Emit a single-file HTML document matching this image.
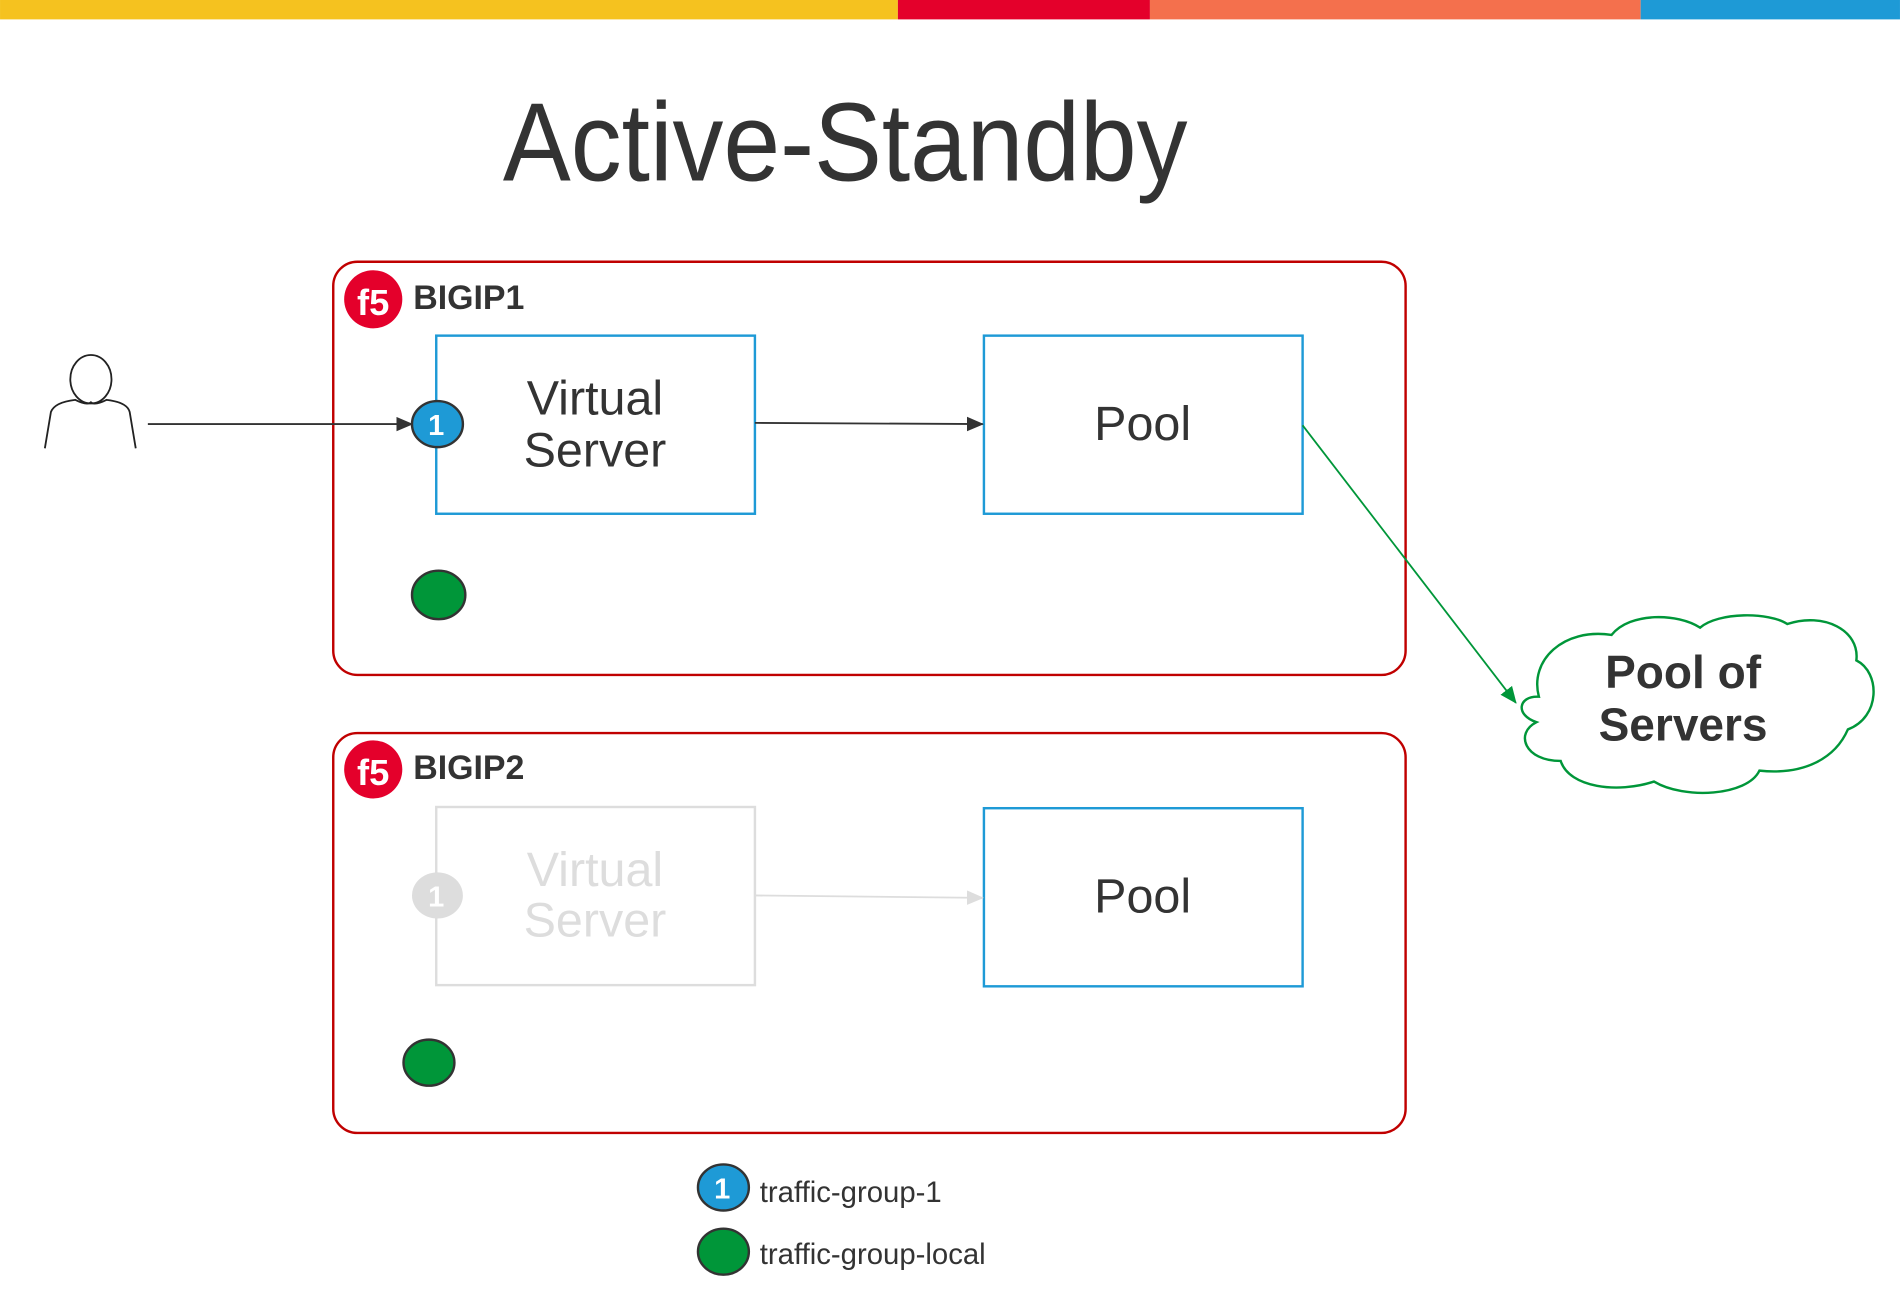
<!DOCTYPE html>
<html><head><meta charset="utf-8"><style>
html,body{margin:0;padding:0;background:#fff;}
svg{display:block;}
text{font-family:"Liberation Sans",Arial,sans-serif;}
</style></head><body>
<svg width="1900" height="1305" viewBox="0 0 1568 1077" xmlns="http://www.w3.org/2000/svg">
<defs>
<marker id="ah" markerWidth="14" markerHeight="12" refX="13" refY="6" orient="auto" markerUnits="userSpaceOnUse"><path d="M0,0 L14,6 L0,12 Z" fill="#333"/></marker>
<marker id="ahg" markerWidth="14" markerHeight="12" refX="13" refY="6" orient="auto" markerUnits="userSpaceOnUse"><path d="M0,0 L14,6 L0,12 Z" fill="#ddd"/></marker>
<marker id="ahgr" markerWidth="14" markerHeight="12" refX="13" refY="6" orient="auto" markerUnits="userSpaceOnUse"><path d="M0,0 L14,6 L0,12 Z" fill="#009639"/></marker>
</defs>
<rect x="0" y="0" width="741" height="16" fill="#F5C21F"/>
<rect x="741" y="0" width="208" height="16" fill="#E4002B"/>
<rect x="949" y="0" width="405" height="16" fill="#F4704D"/>
<rect x="1354" y="0" width="214" height="16" fill="#1E9AD6"/>
<text x="415" y="149" font-size="92" fill="#333" textLength="565" lengthAdjust="spacingAndGlyphs">Active-Standby</text>

<!-- person -->
<ellipse cx="75" cy="313" rx="17" ry="20" fill="#fff" stroke="#222" stroke-width="1.5"/>
<path d="M37,370 L42,340 Q45,332 62,330 Q72,335 75,332 Q78,335 88,330 Q105,332 107,340 L112,370" fill="none" stroke="#222" stroke-width="1.5"/>

<!-- Box 1 -->
<rect x="275" y="216" width="885" height="341" rx="20" fill="none" stroke="#C00000" stroke-width="2"/>
<circle cx="308" cy="247" r="24" fill="#E4002B"/>
<text x="308" y="260" font-size="30" font-family="Liberation Serif,serif" fill="#fff" text-anchor="middle" font-weight="bold">f5</text>
<text x="341" y="255" font-size="28" font-weight="bold" fill="#333">BIGIP1</text>
<rect x="360" y="277" width="263" height="147" fill="none" stroke="#1E9AD6" stroke-width="2"/>
<text x="491" y="342" font-size="40" fill="#333" text-anchor="middle">Virtual</text>
<text x="491" y="385" font-size="40" fill="#333" text-anchor="middle">Server</text>
<rect x="812" y="277" width="263" height="147" fill="none" stroke="#1E9AD6" stroke-width="2"/>
<text x="943" y="363" font-size="40" fill="#333" text-anchor="middle">Pool</text>
<line x1="122" y1="350" x2="340" y2="350" stroke="#333" stroke-width="1.5" marker-end="url(#ah)"/>
<line x1="623" y1="349" x2="811" y2="350" stroke="#333" stroke-width="1.5" marker-end="url(#ah)"/>
<ellipse cx="361" cy="350" rx="21" ry="19" fill="#1E9AD6" stroke="#333" stroke-width="2"/>
<text x="360" y="359" font-size="24" font-weight="bold" fill="#fff" text-anchor="middle">1</text>
<ellipse cx="362" cy="491" rx="22" ry="20" fill="#009639" stroke="#333" stroke-width="2"/>
<line x1="1075" y1="351" x2="1251" y2="580" stroke="#009639" stroke-width="1.5" marker-end="url(#ahgr)"/>

<!-- cloud -->
<path d="M1270,575 C1262,545 1290,518 1330,524 C1345,505 1385,506 1403,518 C1418,505 1460,505 1475,515 C1505,505 1535,520 1532,545 C1552,555 1552,592 1525,602 C1515,625 1490,640 1452,636 C1442,657 1390,660 1365,645 C1335,655 1295,650 1288,628 C1258,628 1250,605 1268,596 C1250,590 1253,574 1270,575 Z" fill="#fff" stroke="#009639" stroke-width="2"/>
<text x="1389" y="568" font-size="38" font-weight="bold" fill="#333" text-anchor="middle">Pool of</text>
<text x="1389" y="611" font-size="38" font-weight="bold" fill="#333" text-anchor="middle">Servers</text>

<!-- Box 2 -->
<rect x="275" y="605" width="885" height="330" rx="20" fill="none" stroke="#C00000" stroke-width="2"/>
<circle cx="308" cy="635" r="24" fill="#E4002B"/>
<text x="308" y="648" font-size="30" font-family="Liberation Serif,serif" fill="#fff" text-anchor="middle" font-weight="bold">f5</text>
<text x="341" y="643" font-size="28" font-weight="bold" fill="#333">BIGIP2</text>
<rect x="360" y="666" width="263" height="147" fill="none" stroke="#ddd" stroke-width="2"/>
<text x="491" y="731" font-size="40" fill="#ddd" text-anchor="middle">Virtual</text>
<text x="491" y="773" font-size="40" fill="#ddd" text-anchor="middle">Server</text>
<rect x="812" y="667" width="263" height="147" fill="none" stroke="#1E9AD6" stroke-width="2"/>
<text x="943" y="753" font-size="40" fill="#333" text-anchor="middle">Pool</text>
<line x1="623" y1="739" x2="811" y2="741" stroke="#ddd" stroke-width="1.5" marker-end="url(#ahg)"/>
<ellipse cx="361" cy="739" rx="21" ry="19" fill="#ddd"/>
<text x="360" y="748" font-size="24" font-weight="bold" fill="#fff" text-anchor="middle">1</text>
<ellipse cx="354" cy="877" rx="21" ry="19" fill="#009639" stroke="#333" stroke-width="2"/>

<!-- legend -->
<ellipse cx="597" cy="980" rx="21" ry="19" fill="#1E9AD6" stroke="#333" stroke-width="2"/>
<text x="596" y="989" font-size="24" font-weight="bold" fill="#fff" text-anchor="middle">1</text>
<text x="627" y="992" font-size="24.2" fill="#333">traffic-group-1</text>
<ellipse cx="597" cy="1033" rx="21" ry="19" fill="#009639" stroke="#333" stroke-width="2"/>
<text x="627" y="1043" font-size="24.2" fill="#333">traffic-group-local</text>
</svg>
</body></html>
